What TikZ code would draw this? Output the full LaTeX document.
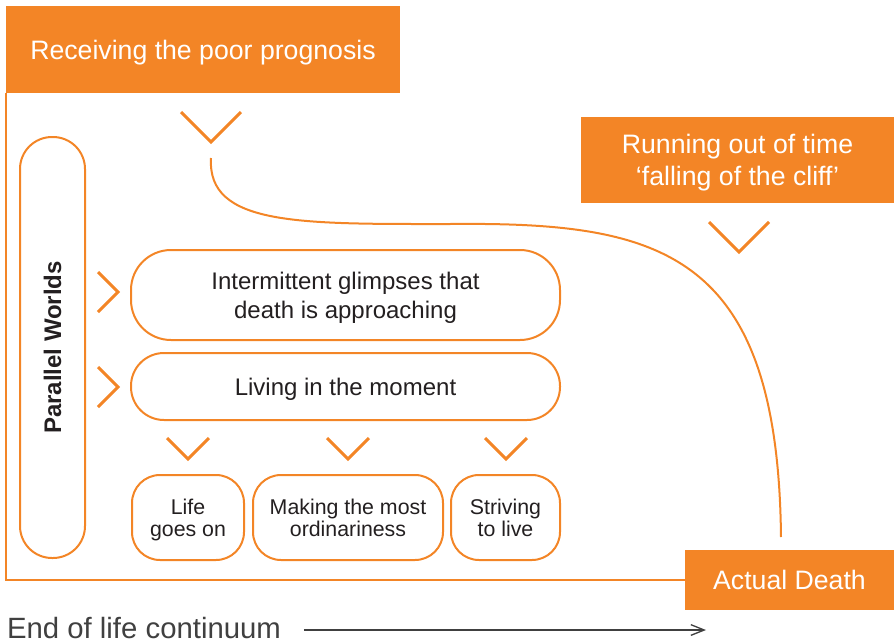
\documentclass[tikz,border=0pt]{standalone}
\usepackage{fontspec}
\setmainfont{Liberation Sans}
\usetikzlibrary{arrows.meta}
\definecolor{pathorange}{RGB}{243,133,38}
\definecolor{pathtext}{RGB}{35,31,32}
\definecolor{axisgray}{RGB}{64,64,64}
\begin{document}
\begin{tikzpicture}
[x=0.75pt,y=-0.75pt,
  stagedecorate/.style={shape=rectangle,fill=pathorange,text=white,inner sep=0pt,align=center,
    text depth=0pt,font=\fontsize{20}{24.5}\selectfont},
  worlddecorate/.style={shape=rectangle,draw=pathorange,line width=1.5pt,inner sep=0pt,
    text depth=0pt,text=pathtext,align=center,font=\fontsize{18}{22}\selectfont},
  subdecorate/.style={worlddecorate,minimum height=63.75pt,rounded corners=21pt,
    font=\fontsize{16}{16.5}\selectfont},
  chevrondecorate/.style={draw=pathorange,line width=2.25pt},
  linedecorate/.style={draw=pathorange,line width=1.5pt},
  arrowdecorate/.style={draw=axisgray,line width=1pt,-{Straight Barb[length=10pt,width=8pt]}}]
\useasboundingbox (0,0) rectangle (894,643);
% stages
\node (prognosis) at (203,49.5) [stagedecorate,minimum width=295.5pt,minimum height=65.25pt]
  {Receiving the poor prognosis};
\node (cliff) at (737.5,160) [stagedecorate,minimum width=234.75pt,minimum height=64.5pt]
  {Running out of time\\`falling of the cliff'};
\node (death) at (789.5,580) [stagedecorate,minimum width=156.75pt,minimum height=45pt]
  {Actual Death};
% parallel worlds
\node (worlds) at (52.5,347.5) [worlddecorate,rotate=90,minimum width=315.75pt,
  minimum height=48.75pt,rounded corners=24pt,font=\fontsize{18}{22}\selectfont\bfseries]
  {Parallel Worlds};
\node (glimpses) at (345.5,295) [worlddecorate,minimum width=321.75pt,minimum height=67.5pt,
  rounded corners=30pt] {Intermittent glimpses that\\death is approaching};
\node (moment) at (345.5,386.5) [worlddecorate,minimum width=321.75pt,minimum height=50.25pt,
  rounded corners=24.75pt] {Living in the moment};
\node (lifegoes) at (188,517.5) [subdecorate,minimum width=84pt] {Life\\goes on};
\node (ordinary) at (348,517.5) [subdecorate,minimum width=142.5pt]
  {Making the most\\ordinariness};
\node (striving) at (505.5,517.5) [subdecorate,minimum width=81.75pt] {Striving\\to live};
% chevrons
\draw[chevrondecorate] (181,112) -- (211,142) -- (241,112);
\draw[chevrondecorate] (709,222) -- (739,252) -- (769,222);
\draw[chevrondecorate] (98,272) -- (118,292) -- (98,312);
\draw[chevrondecorate] (98,367) -- (118,387) -- (98,407);
\draw[chevrondecorate] (167,438) -- (188,459) -- (209,438);
\draw[chevrondecorate] (327,438) -- (348,459) -- (369,438);
\draw[chevrondecorate] (485,438) -- (506,459) -- (527,438);
% trajectory and frame
\coordinate (dropstart) at (211,158);
\coordinate (dropend) at (781,537);
\path[linedecorate] (dropstart) .. controls (207,226) and (300,224) .. (450,224)
  .. controls (660,222) and (778,250) .. (dropend);
\path[linedecorate] (prognosis.south west) |- (death.west);
% continuum
\node (continuum) at (144,628) [inner sep=0pt,text=axisgray,font=\fontsize{22}{24}\selectfont]
  {End of life continuum};
\coordinate (continuumend) at (706,630);
\draw[arrowdecorate] (continuum.east |- continuumend) ++(17pt,0) -- (continuumend);
\end{tikzpicture}
\end{document}
